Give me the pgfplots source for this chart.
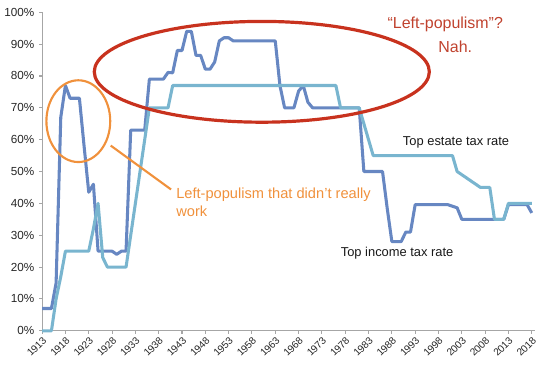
\documentclass[border=0pt]{standalone}
\usepackage{pgfplots}
\pgfplotsset{compat=1.18}
\usepackage{pgfplotstable}
\usepackage{fontspec}
\setmainfont{Liberation Sans}
\definecolor{incomeblue}{HTML}{6787C2}
\definecolor{estateblue}{HTML}{79B5CF}
\definecolor{redann}{HTML}{C8321E}
\definecolor{redtext}{HTML}{C0422E}
\definecolor{orangeann}{HTML}{F0913C}
\definecolor{axisgray}{HTML}{A6A6A6}

\pgfplotstableread{
year rate
1913 7
1914 7
1915 7
1916 15
1917 67
1918 77
1919 73
1920 73
1921 73
1922 58
1923 43.5
1924 46
1925 25
1926 25
1927 25
1928 25
1929 24
1930 25
1931 25
1932 63
1933 63
1934 63
1935 63
1936 79
1937 79
1938 79
1939 79
1940 81.1
1941 81
1942 88
1943 88
1944 94
1945 94
1946 86.45
1947 86.45
1948 82.13
1949 82.13
1950 84.36
1951 91
1952 92
1953 92
1954 91
1955 91
1956 91
1957 91
1958 91
1959 91
1960 91
1961 91
1962 91
1963 91
1964 77
1965 70
1966 70
1967 70
1968 75.25
1969 77
1970 71.75
1971 70
1972 70
1973 70
1974 70
1975 70
1976 70
1977 70
1978 70
1979 70
1980 70
1981 70
1982 50
1983 50
1984 50
1985 50
1986 50
1987 38.5
1988 28
1989 28
1990 28
1991 31
1992 31
1993 39.6
1994 39.6
1995 39.6
1996 39.6
1997 39.6
1998 39.6
1999 39.6
2000 39.6
2001 39.1
2002 38.6
2003 35
2004 35
2005 35
2006 35
2007 35
2008 35
2009 35
2010 35
2011 35
2012 35
2013 39.6
2014 39.6
2015 39.6
2016 39.6
2017 39.6
2018 37
}\income

\pgfplotstableread{
year rate
1913 0
1914 0
1915 0
1916 10
1917 17
1918 25
1919 25
1920 25
1921 25
1922 25
1923 25
1924 32
1925 40
1926 23
1927 20
1928 20
1929 20
1930 20
1931 20
1932 30
1933 40
1934 50
1935 60
1936 70
1937 70
1938 70
1939 70
1940 70
1941 77
1942 77
1943 77
1944 77
1945 77
1946 77
1947 77
1948 77
1949 77
1950 77
1951 77
1952 77
1953 77
1954 77
1955 77
1956 77
1957 77
1958 77
1959 77
1960 77
1961 77
1962 77
1963 77
1964 77
1965 77
1966 77
1967 77
1968 77
1969 77
1970 77
1971 77
1972 77
1973 77
1974 77
1975 77
1976 77
1977 70
1978 70
1979 70
1980 70
1981 70
1982 65
1983 60
1984 55
1985 55
1986 55
1987 55
1988 55
1989 55
1990 55
1991 55
1992 55
1993 55
1994 55
1995 55
1996 55
1997 55
1998 55
1999 55
2000 55
2001 55
2002 50
2003 49
2004 48
2005 47
2006 46
2007 45
2008 45
2009 45
2010 35
2011 35
2012 35
2013 40
2014 40
2015 40
2016 40
2017 40
2018 40
}\estate

\begin{document}
\begin{tikzpicture}[x=0.75pt,y=-0.75pt]
\path (0,0) rectangle (550,374);
\coordinate (O) at (40.7,331.7);
\begin{axis}[
  at={(O)}, anchor=south west,
  scale only axis, width=370.7pt, height=239.55pt,
  xmin=1913, xmax=2018.7, ymin=0, ymax=100,
  axis x line*=bottom, axis y line*=left,
  axis line style={draw=axisgray, line width=0.8pt, -},
  xtick={1913,1918,...,2018},
  ytick={0,10,...,100},
  tick align=outside,
  major tick length=2.3pt,
  tick style={draw=axisgray, line width=0.8pt},
  /pgf/number format/assume math mode=true,
  /pgf/number format/1000 sep={},
  yticklabel={\pgfmathprintnumber{\tick}\%},
  yticklabel style={font=\fontsize{8.8}{10}\selectfont, text=black!85},
  xticklabel style={font=\fontsize{7.6}{9}\selectfont, text=black!85, rotate=45, anchor=north east, inner sep=1pt},
  clip=false,
]
\addplot[incomeblue, line width=2.3pt, line join=round] table[x=year,y=rate] {\income};
\addplot[estateblue, line width=2.3pt, line join=round] table[x=year,y=rate] {\estate};
\end{axis}
\draw[redann, line width=2.4pt] (261,72) ellipse [x radius=126pt, y radius=37.9pt];
\draw[orangeann, line width=1.6pt] (77,121.5) ellipse [x radius=24pt, y radius=30.75pt];
\draw[orangeann, line width=1.6pt] (109.5,146) -- (170,190);
\node[redtext, font=\fontsize{12}{14}\selectfont, inner sep=0pt] at (445,24.3) {“Left-populism”?};
\node[redtext, font=\fontsize{12}{14}\selectfont, inner sep=0pt] at (455,46.7) {Nah.};
\node[orangeann, font=\fontsize{11}{13}\selectfont, inner sep=0pt, anchor=west] at (175,195.7) {Left-populism that didn't really};
\node[orangeann, font=\fontsize{11}{13}\selectfont, inner sep=0pt, anchor=west] at (175,212.3) {work};
\node[black!90, font=\fontsize{9.7}{12}\selectfont, inner sep=0pt, anchor=west] at (402.3,142.3) {Top estate tax rate};
\node[black!90, font=\fontsize{9.7}{12}\selectfont, inner sep=0pt, anchor=west] at (340,254) {Top income tax rate};
\end{tikzpicture}
\end{document}
